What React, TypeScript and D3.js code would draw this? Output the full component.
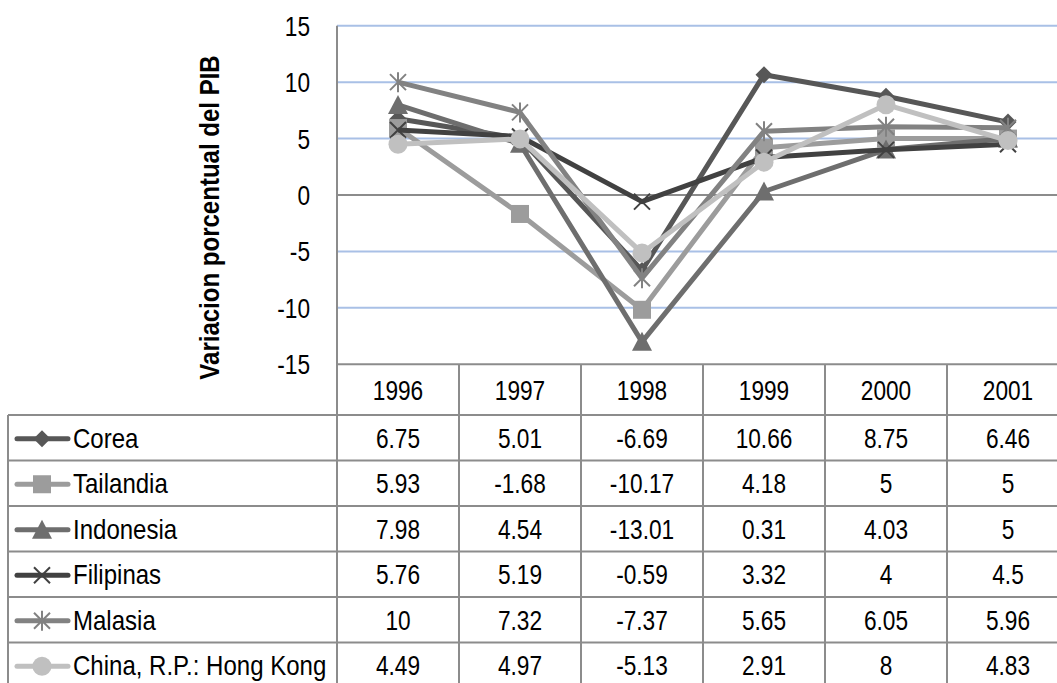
import React from "react";
import * as d3 from "d3";

// Annual GDP growth (%) by economy, 1996–2001
const years = ["1996", "1997", "1998", "1999", "2000", "2001"];
const corea = [6.75, 5.01, -6.69, 10.66, 8.75, 6.46];
const tailandia = [5.93, -1.68, -10.17, 4.18, 5, 5];
const indonesia = [7.98, 4.54, -13.01, 0.31, 4.03, 5];
const filipinas = [5.76, 5.19, -0.59, 3.32, 4, 4.5];
const malasia = [10, 7.32, -7.37, 5.65, 6.05, 5.96];
const hongKong = [4.49, 4.97, -5.13, 2.91, 8, 4.83];
const yTicks = [15, 10, 5, 0, -5, -10, -15];

type Marker = "diamond" | "square" | "triangle" | "x" | "star" | "circle";

const series: { name: string; values: number[]; color: string; marker: Marker }[] = [
  { name: "Corea", values: corea, color: "#575757", marker: "diamond" },
  { name: "Tailandia", values: tailandia, color: "#9c9c9c", marker: "square" },
  { name: "Indonesia", values: indonesia, color: "#6e6e6e", marker: "triangle" },
  { name: "Filipinas", values: filipinas, color: "#414141", marker: "x" },
  { name: "Malasia", values: malasia, color: "#828282", marker: "star" },
  { name: "China, R.P.: Hong Kong", values: hongKong, color: "#c0c0c0", marker: "circle" },
];

const W = 1057;
const H = 683;
const plotLeft = 337;
const plotRight = 1069;
const plotTop = 25.7;
const plotBottom = 364.3;
const tableLeft = 8;
const headerBottom = 415;
const rowH = 45.5;

const FONT = "'Liberation Sans', Arial, sans-serif";
const GRID = "#a9c0e6";
const AXIS = "#8c8c8c";

function MarkerShape({ type, x, y, color }: { type: Marker; x: number; y: number; color: string }) {
  switch (type) {
    case "diamond":
      return <path d={`M${x},${y - 8.5}L${x + 8.5},${y}L${x},${y + 8.5}L${x - 8.5},${y}Z`} fill={color} />;
    case "square":
      return <rect x={x - 9} y={y - 9} width={18} height={18} fill={color} />;
    case "triangle":
      return <path d={`M${x},${y - 10}L${x + 10},${y + 9}L${x - 10},${y + 9}Z`} fill={color} />;
    case "x":
      return (
        <path
          d={`M${x - 8},${y - 8}L${x + 8},${y + 8}M${x - 8},${y + 8}L${x + 8},${y - 8}`}
          stroke={color}
          strokeWidth={2}
          fill="none"
        />
      );
    case "star":
      return (
        <path
          d={`M${x - 8},${y - 8}L${x + 8},${y + 8}M${x - 8},${y + 8}L${x + 8},${y - 8}M${x},${y - 10}L${x},${y + 10}`}
          stroke={color}
          strokeWidth={2}
          fill="none"
        />
      );
    case "circle":
      return <circle cx={x} cy={y} r={9.5} fill={color} />;
  }
}

function Txt({
  x,
  y,
  children,
  anchor = "middle",
  sx = 0.84,
}: {
  x: number;
  y: number;
  children: React.ReactNode;
  anchor?: string;
  sx?: number;
}) {
  return (
    <text
      transform={`translate(${x},${y}) scale(${sx},1)`}
      textAnchor={anchor}
      fontFamily={FONT}
      fontSize={27}
      fill="#000"
    >
      {children}
    </text>
  );
}

export default function App() {
  const x = d3.scaleBand<string>().domain(years).range([plotLeft, plotRight]);
  const y = d3.scaleLinear().domain([-15, 15]).range([plotBottom, plotTop]);
  const cx = (yr: string) => (x(yr) as number) + x.bandwidth() / 2;

  const line = d3
    .line<number>()
    .x((_, i) => cx(years[i]))
    .y((v) => y(v));

  const rowTops = series.map((_, i) => headerBottom + i * rowH);

  return (
    <svg
      width={W}
      height={H}
      style={{ position: "absolute", left: 0, top: 0, background: "#fff" }}
    >
      {/* horizontal gridlines */}
      {yTicks.map((t) => (
        <line
          key={t}
          x1={plotLeft}
          x2={plotRight}
          y1={y(t)}
          y2={y(t)}
          stroke={t === 0 || t === -15 ? AXIS : GRID}
          strokeWidth={2}
        />
      ))}

      {/* y tick labels */}
      {yTicks.map((t) => (
        <Txt key={t} x={310} y={y(t) + 10} anchor="end">
          {t}
        </Txt>
      ))}

      {/* y axis title */}
      <text
        transform={`translate(219,217.5) rotate(-90) scale(0.89,1)`}
        textAnchor="middle"
        fontFamily={FONT}
        fontSize={27}
        fontWeight="bold"
        fill="#000"
      >
        Variacion porcentual del PIB
      </text>

      {/* data table grid */}
      <line x1={plotLeft} x2={plotLeft} y1={plotTop} y2={H} stroke={AXIS} strokeWidth={2} />
      {years.slice(1).map((yr) => (
        <line
          key={yr}
          x1={x(yr) as number}
          x2={x(yr) as number}
          y1={plotBottom}
          y2={H}
          stroke={AXIS}
          strokeWidth={2}
        />
      ))}
      <line x1={tableLeft} x2={tableLeft} y1={headerBottom} y2={H} stroke={AXIS} strokeWidth={2} />
      {rowTops.map((t, i) => (
        <line key={i} x1={tableLeft} x2={plotRight} y1={t} y2={t} stroke={AXIS} strokeWidth={2} />
      ))}

      {/* header years */}
      {years.map((yr) => (
        <Txt key={yr} x={cx(yr)} y={(plotBottom + headerBottom) / 2 + 10}>
          {yr}
        </Txt>
      ))}

      {/* table rows: legend key, name and values */}
      {series.map((s, i) => {
        const cy = rowTops[i] + rowH / 2;
        return (
          <g key={s.name}>
            <line x1={17} x2={68} y1={cy + 1} y2={cy + 1} stroke={s.color} strokeWidth={5} strokeLinecap="round" />
            <MarkerShape type={s.marker} x={42} y={cy + 1} color={s.color} />
            <Txt x={73} y={cy + 10} anchor="start" sx={0.89}>
              {s.name}
            </Txt>
            {s.values.map((v, j) => (
              <Txt key={j} x={cx(years[j])} y={cy + 10}>
                {String(v)}
              </Txt>
            ))}
          </g>
        );
      })}

      {/* series lines and markers */}
      {series.map((s) => (
        <g key={s.name}>
          <path d={line(s.values) ?? ""} fill="none" stroke={s.color} strokeWidth={5} strokeLinejoin="round" />
          {s.values.map((v, j) => (
            <MarkerShape key={j} type={s.marker} x={cx(years[j])} y={y(v)} color={s.color} />
          ))}
        </g>
      ))}
    </svg>
  );
}
